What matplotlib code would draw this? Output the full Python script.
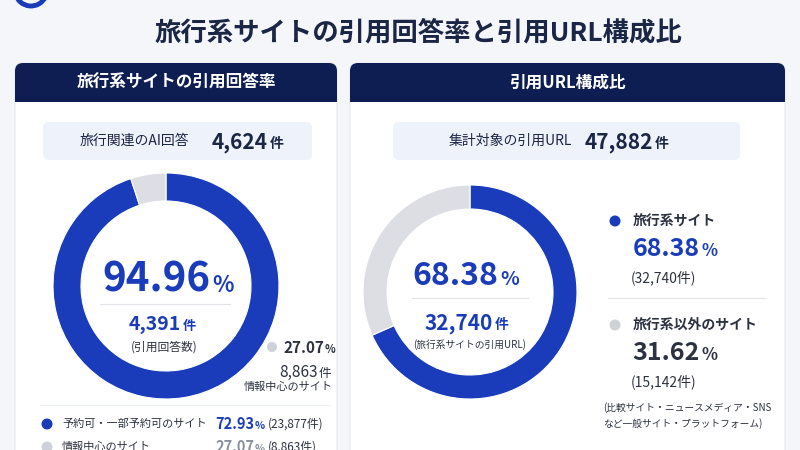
import matplotlib
matplotlib.use("Agg")
import matplotlib.pyplot as plt
from matplotlib.patches import FancyBboxPatch, Rectangle, Circle, Arc

plt.rcParams["font.family"] = ["Noto Sans CJK JP", "DejaVu Sans"]

# data
title = "旅行系サイトの引用回答率と引用URL構成比"
answers_total = 4624
cited_answers = 4391
cited_share = [94.96, 5.04]          # cited / not cited
site_types = ["予約可・一部予約可のサイト", "情報中心のサイト"]
site_pct = [72.93, 27.07]
site_cnt = [23877, 8863]
url_total = 47882
url_labels = ["旅行系サイト", "旅行系以外のサイト"]
url_pct = [68.38, 31.62]
url_cnt = [32740, 15142]
url_note = ["(比較サイト・ニュースメディア・SNS", "など一般サイト・プラットフォーム)"]

BLUE = "#1a3cba"
GRAY = "#dcdee3"
DOT_GRAY = "#cfd1d8"
NAVY = "#0f1e52"
INK = "#1b2545"
DARK = "#2d3240"
BG = "#f4f6fa"
BOX = "#eef2fa"

W, H = 800, 450
fig = plt.figure(figsize=(8, 4.5), dpi=100)
fig.patch.set_facecolor(BG)

bg = fig.add_axes([0, 0, 1, 1])
bg.set_xlim(0, W); bg.set_ylim(H, 0); bg.axis("off")

# logo fragment
bg.add_patch(Arc((31, -10), 32, 32, theta1=25, theta2=165, color=BLUE, lw=3.5))

def panel(x0, x1, y0=63, y1=470, hh=39):
    bg.add_patch(FancyBboxPatch((x0, y0), x1 - x0, y1 - y0, boxstyle="round,pad=0,rounding_size=8",
                                fc="white", ec="#e3e6ee", lw=0.8))
    bg.add_patch(FancyBboxPatch((x0, y0), x1 - x0, hh, boxstyle="round,pad=0,rounding_size=8",
                                fc=NAVY, ec="none"))
    bg.add_patch(Rectangle((x0, y0 + hh - 10), x1 - x0, 10, fc=NAVY, ec="none"))

panel(15, 337)
panel(350, 785)

for x0, x1 in [(43, 312), (393, 740)]:
    bg.add_patch(FancyBboxPatch((x0, 122), x1 - x0, 38, boxstyle="round,pad=0,rounding_size=6",
                                fc=BOX, ec="none"))

def donut(cx, cy, r, ring, vals):
    ax = fig.add_axes([(cx - r) / W, (H - cy - r) / H, 2 * r / W, 2 * r / H])
    ax.pie(vals, colors=[BLUE, GRAY], startangle=90, counterclock=False, radius=1,
           wedgeprops=dict(width=ring / r, edgecolor="white", linewidth=0.8))
    ax.set_xlim(-1, 1); ax.set_ylim(-1, 1); ax.set_aspect("auto"); ax.axis("off")

donut(166, 286, 113, 28, cited_share)
donut(470, 292, 107, 24, url_pct)

ov = fig.add_axes([0, 0, 1, 1])
ov.set_xlim(0, W); ov.set_ylim(H, 0); ov.axis("off"); ov.patch.set_alpha(0)

def num(x, y, value, unit, size, usize, color, weight="bold", ucolor=None, gap=2):
    ov.text(x, y, value, ha="right", va="baseline", fontsize=size, fontweight=weight, color=color)
    ov.text(x + gap, y, unit, ha="left", va="baseline", fontsize=usize, fontweight=weight,
            color=ucolor or color)

ov.text(418, 33, title, ha="center", va="center", fontsize=19, fontweight="bold", color=INK)
ov.text(176, 83, "旅行系サイトの引用回答率", ha="center", va="center", fontsize=12,
        fontweight="bold", color="white")
ov.text(567, 83, "引用URL構成比", ha="center", va="center", fontsize=12, fontweight="bold", color="white")

# info boxes
ov.text(134, 141, "旅行関連のAI回答", ha="center", va="center", fontsize=10, color=INK)
num(268, 148, f"{answers_total:,}", "件", 15, 10, INK)
ov.text(510, 141, "集計対象の引用URL", ha="center", va="center", fontsize=10, color=INK)
num(653, 148, f"{url_total:,}", "件", 15, 10, INK)

# left donut center
num(210, 292, f"{cited_share[0]:.2f}", "%", 29, 16, BLUE)
ov.plot([100, 230], [304, 304], color="#e1e3e8", lw=0.8)
num(181, 330, f"{cited_answers:,}", "件", 14, 9.5, BLUE)
ov.text(164, 347, "(引用回答数)", ha="center", va="center", fontsize=8.5, color=DARK)

# left annotation
ov.add_patch(Circle((272, 347), 5, fc=DOT_GRAY, ec="none"))
num(324, 353, f"{site_pct[1]:.2f}", "%", 11, 8, DARK, gap=1)
num(318, 377, f"{site_cnt[1]:,}", "件", 11, 9, DARK, weight="normal", gap=1)
ov.text(333, 387, site_types[1], ha="right", va="center", fontsize=8, color=DARK)

# left legend (second row is clipped by the canvas, as in the source)
ov.plot([40, 330], [405, 405], color="#eceef2", lw=0.8)
for i, (lab, p, c) in enumerate(zip(site_types, site_pct, site_cnt)):
    y = 424 + 23 * i
    dot = BLUE if i == 0 else DOT_GRAY
    pc = BLUE if i == 0 else "#8a8f9c"
    ov.add_patch(Circle((47, y), 5.5, fc=dot, ec="none"))
    ov.text(62, y, lab, ha="left", va="center", fontsize=8, color=DARK)
    num(254, y + 5, f"{p:.2f}", "%", 10.5, 7.5, pc, gap=1)
    ov.text(268, y, f"({c:,}件)", ha="left", va="center", fontsize=8.5, color=DARK)

# right donut center
num(498, 285, f"{url_pct[0]:.2f}", "%", 23, 14, BLUE)
ov.plot([412, 528], [298, 298], color="#e1e3e8", lw=0.8)
num(493, 329, f"{url_cnt[0]:,}", "件", 15, 10, BLUE)
ov.text(470, 345, "(旅行系サイトの引用URL)", ha="center", va="center", fontsize=7, color=DARK)

# right legend
for i, (lab, p, c) in enumerate(zip(url_labels, url_pct, url_cnt)):
    y = 221 + 104 * i
    col = BLUE if i == 0 else DARK
    ov.add_patch(Circle((615, y), 5.5, fc=BLUE if i == 0 else DOT_GRAY, ec="none"))
    ov.text(633, y, lab, ha="left", va="center", fontsize=10, fontweight="bold", color=DARK)
    num(700, y + 35, f"{p:.2f}", "%", 18, 12, col, gap=1)
    ov.text(631, y + 57, f"({c:,}件)", ha="left", va="center", fontsize=10, color=DARK)
ov.plot([608, 765], [298, 298], color="#e1e3e8", lw=0.8)
for j, line in enumerate(url_note):
    ov.text(603, 408 + 16 * j, line, ha="left", va="center", fontsize=7, color=DARK)

fig.savefig("out.png", dpi=100, facecolor=BG)
